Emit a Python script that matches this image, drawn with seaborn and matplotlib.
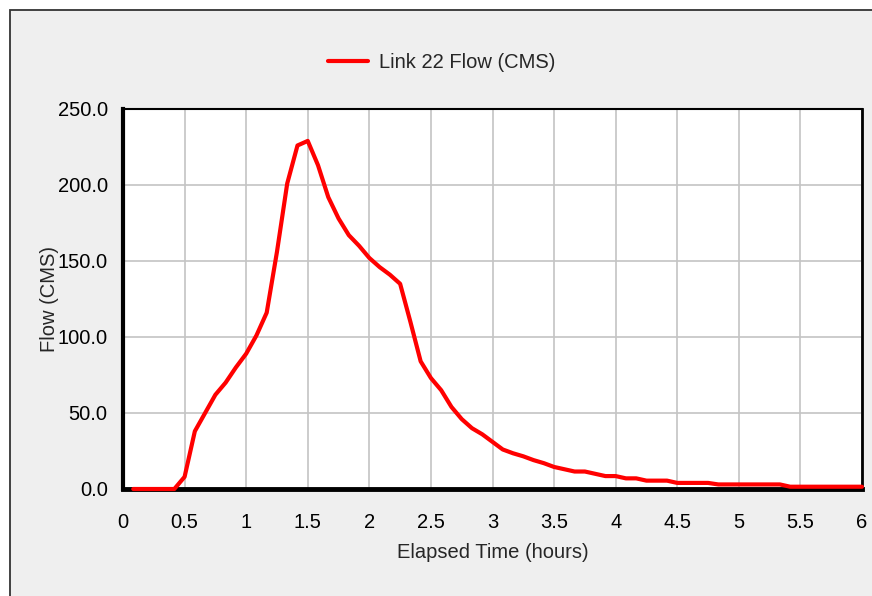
import pandas as pd
import seaborn as sns
import matplotlib.pyplot as plt
from matplotlib.patches import Rectangle

# flow sampled every 5 min (hours)
hours = [i / 12 for i in range(1, 73)]
flow = [0, 0, 0, 0, 0, 8, 38, 50, 62, 70, 80, 89,
        101, 116, 156, 201, 226, 229, 213, 192, 178, 167, 160, 152,
        146, 141, 135, 110, 84, 73, 65, 54, 46, 40, 36, 31,
        26, 23.5, 21.5, 19, 17, 14.5, 13, 11.5, 11.5, 10, 8.5, 8.5,
        7, 7, 5.5, 5.5, 5.5, 4, 4, 4, 4, 3, 3, 3,
        3, 3, 3, 3, 1.5, 1.5, 1.5, 1.5, 1.5, 1.5, 1.5, 1.5]
series_name = "Link 22 Flow (CMS)"
x_ticks = [0, 0.5, 1, 1.5, 2, 2.5, 3, 3.5, 4, 4.5, 5, 5.5, 6]
x_labels = ["0", "0.5", "1", "1.5", "2", "2.5", "3", "3.5", "4", "4.5", "5", "5.5", "6"]
y_ticks = [0, 50, 100, 150, 200, 250]

df = pd.DataFrame({"hours": hours, "flow": flow, "series": series_name})

sns.set_style("white")
plt.rcParams['font.family'] = ['Liberation Sans', 'DejaVu Sans']
fs = 14.5

W, H = 872, 596
fig = plt.figure(figsize=(W / 100, H / 100), dpi=100)
fig.patch.set_facecolor("white")

# panel frame (cut off at right/bottom like the screenshot)
frame = Rectangle((10 / W, -0.1), 1.2, 1.1 - 10 / H, transform=fig.transFigure,
                  facecolor="#efefef", edgecolor="#333333", linewidth=1.3, zorder=-1)
fig.patches.append(frame)

ax = fig.add_axes([123 / W, 1 - 489 / H, (862 - 123) / W, (489 - 109) / H])
ax.set_facecolor("white")

sns.lineplot(data=df, x="hours", y="flow", hue="series", palette=["#ff0000"],
             linewidth=3, ax=ax, zorder=3, clip_on=False)

ax.set_xlim(0, 6)
ax.set_ylim(0, 250)
ax.set_xticks(x_ticks)
ax.set_xticklabels(x_labels)
ax.set_yticks(y_ticks)
ax.set_yticklabels([f"{v:.1f}" for v in y_ticks])
ax.grid(True, color="#c4c4c4", linewidth=1.2)
ax.set_axisbelow(True)

ax.tick_params(axis="both", direction="out", length=7, width=1.2, color="#888888",
               labelsize=fs, labelcolor="black")
ax.tick_params(axis="x", pad=10)
ax.tick_params(axis="y", pad=4)

ax.spines["left"].set_linewidth(3)
ax.spines["bottom"].set_linewidth(3.5)
ax.spines["top"].set_linewidth(1.5)
ax.spines["right"].set_linewidth(2)
for s in ax.spines.values():
    s.set_color("black")

ax.set_xlabel("Elapsed Time (hours)", fontsize=fs, labelpad=8)
ax.set_ylabel("Flow (CMS)", fontsize=fs, labelpad=-1)

ax.legend_.remove()
handles, labels = ax.get_legend_handles_labels()
fig.legend(handles, labels, loc="center", bbox_to_anchor=(442 / W, 1 - 63 / H),
           frameon=False, fontsize=fs, handlelength=2.0, handletextpad=0.55)

fig.savefig("out.png", dpi=100)
